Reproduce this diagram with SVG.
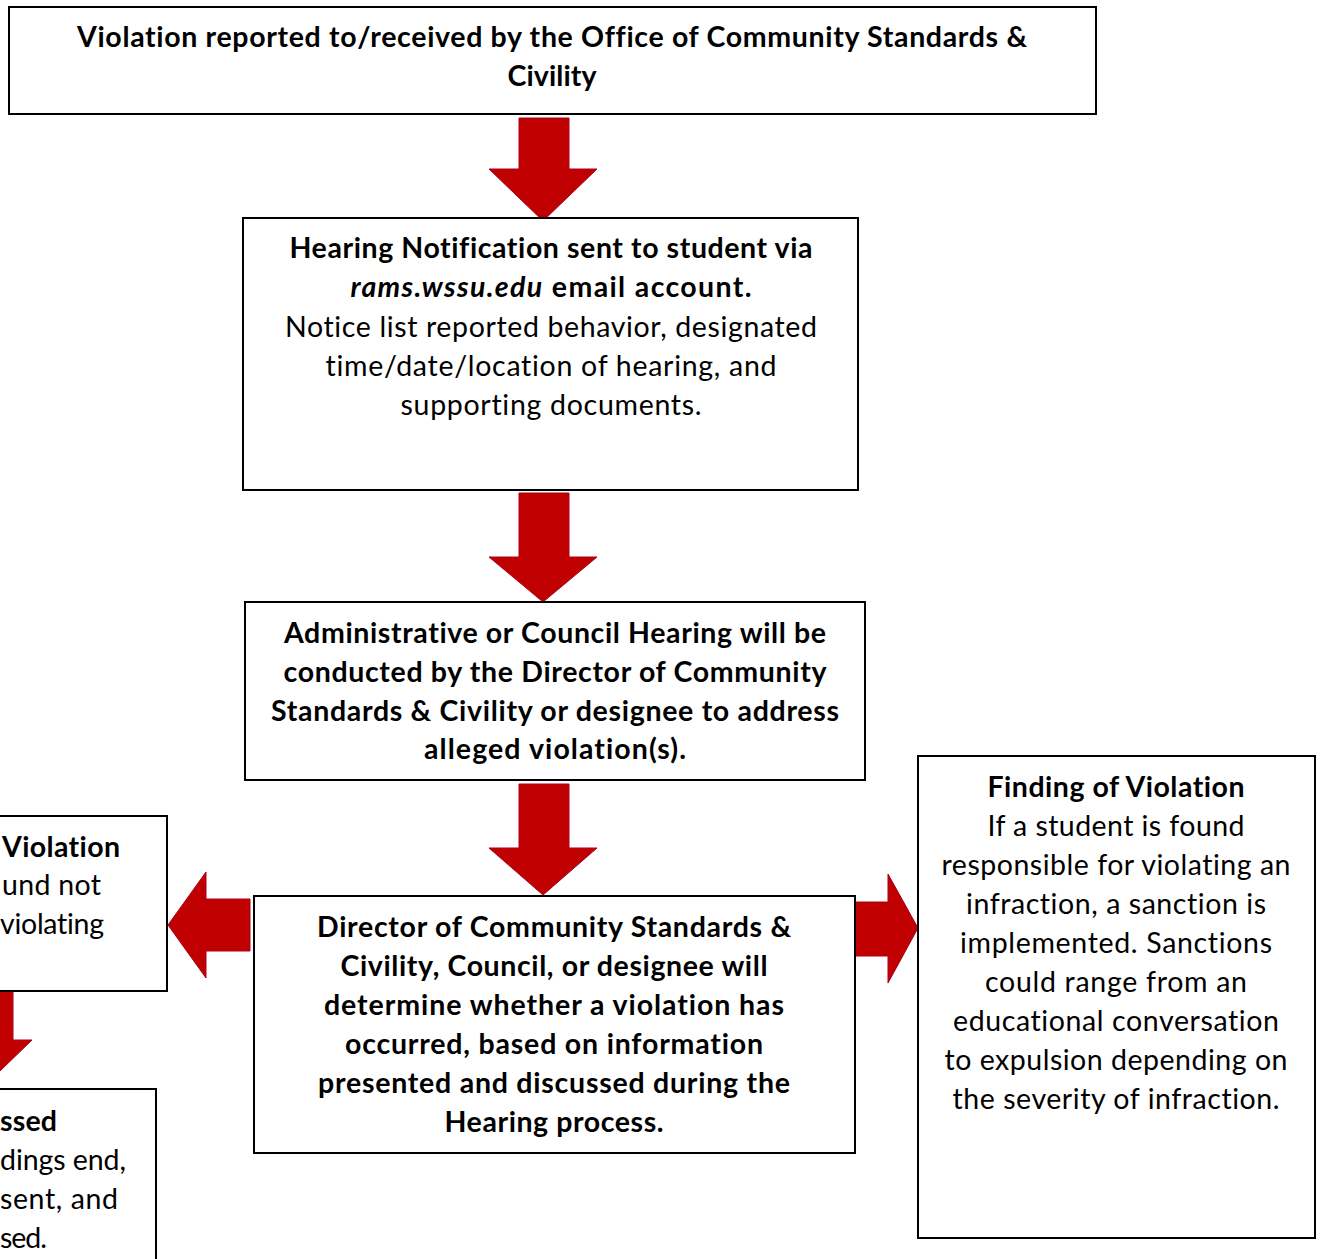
<svg xmlns="http://www.w3.org/2000/svg" width="1321" height="1259" viewBox="0 0 1321 1259">
<style>
.box{fill:#fff;stroke:#000;stroke-width:2}
.t{font-family:Lato,"Open Sans","Liberation Sans",sans-serif;font-size:28.5px;fill:#000;text-anchor:middle;font-variant-ligatures:none}
.b{font-weight:bold}
.l{text-anchor:start}
.arr{fill:#C00000;stroke:#A8001E;stroke-width:1}
</style>
<rect width="1321" height="1259" fill="#fff"/>
<g id="connectors">
<polygon class="arr" points="519,118 569,118 569,169 597,169 543,221 489,169 519,169"/>
<polygon class="arr" points="519,493 569,493 569,557 597,557 543,602 489,557 519,557"/>
<polygon class="arr" points="519,784 569,784 569,848 597,848 543,895 489,848 519,848"/>
<polygon class="arr" points="250,899 206,899 206,872 168,925 206,978 206,951 250,951"/>
<polygon class="arr" points="852,902 888,902 888,874 918,928 888,983 888,956 852,956"/>
<polygon class="arr" points="-30,991 13,991 13,1040 32,1040 0,1071 -32,1040 -30,1040"/>
</g>
<g id="node-reported">
<rect class="box" x="9" y="7" width="1087" height="107"/>
<text class="t b" x="552" y="47" textLength="950">Violation reported to/received by the Office of Community Standards &amp;</text>
<text class="t b" x="552" y="86" textLength="89">Civility</text>
</g>
<g id="node-notification">
<rect class="box" x="243" y="218" width="615" height="272"/>
<text class="t b" x="551" y="258" textLength="523">Hearing Notification sent to student via</text>
<text class="t b" x="551" y="297" textLength="401"><tspan font-style="italic">rams.wssu.edu</tspan> email account.</text>
<text class="t" x="551" y="337" textLength="532">Notice list reported behavior, designated</text>
<text class="t" x="551" y="376" textLength="451">time/date/location of hearing, and</text>
<text class="t" x="551" y="415" textLength="301">supporting documents.</text>
</g>
<g id="node-hearing">
<rect class="box" x="245" y="602" width="620" height="178"/>
<text class="t b" x="555" y="643" textLength="542">Administrative or Council Hearing will be</text>
<text class="t b" x="555" y="682" textLength="543">conducted by the Director of Community</text>
<text class="t b" x="555" y="721" textLength="568">Standards &amp; Civility or designee to address</text>
<text class="t b" x="555" y="759" textLength="262">alleged violation(s).</text>
</g>
<g id="node-determine">
<rect class="box" x="254" y="896" width="601" height="257"/>
<text class="t b" x="554" y="937" textLength="474">Director of Community Standards &amp;</text>
<text class="t b" x="554" y="976" textLength="427">Civility, Council, or designee will</text>
<text class="t b" x="554" y="1015" textLength="460">determine whether a violation has</text>
<text class="t b" x="554" y="1054" textLength="418">occurred, based on information</text>
<text class="t b" x="554" y="1093" textLength="472">presented and discussed during the</text>
<text class="t b" x="554" y="1132" textLength="219">Hearing process.</text>
</g>
<g id="node-finding">
<rect class="box" x="918" y="756" width="397" height="482"/>
<text class="t b" x="1116" y="797" textLength="257">Finding of Violation</text>
<text class="t" x="1116" y="836" textLength="257">If a student is found</text>
<text class="t" x="1116" y="875" textLength="349">responsible for violating an</text>
<text class="t" x="1116" y="914" textLength="300">infraction, a sanction is</text>
<text class="t" x="1116" y="953" textLength="312">implemented. Sanctions</text>
<text class="t" x="1116" y="992" textLength="262">could range from an</text>
<text class="t" x="1116" y="1031" textLength="326">educational conversation</text>
<text class="t" x="1116" y="1070" textLength="343">to expulsion depending on</text>
<text class="t" x="1116" y="1109" textLength="327">the severity of infraction.</text>
</g>
<g id="node-no-finding">
<rect class="box" x="-10" y="816" width="177" height="175"/>
<text class="t b l" x="2" y="857" textLength="118">Violation</text>
<text class="t l" x="2" y="895" textLength="99">und not</text>
<text class="t l" x="0" y="934" textLength="104">violating</text>
</g>
<g id="node-dismissed">
<rect class="box" x="-10" y="1089" width="166" height="190"/>
<text class="t b l" x="0" y="1131" textLength="57">ssed</text>
<text class="t l" x="0" y="1170" textLength="126">dings end,</text>
<text class="t l" x="0" y="1209" textLength="118">sent, and</text>
<text class="t l" x="0" y="1248" textLength="47">sed.</text>
</g>
</svg>
